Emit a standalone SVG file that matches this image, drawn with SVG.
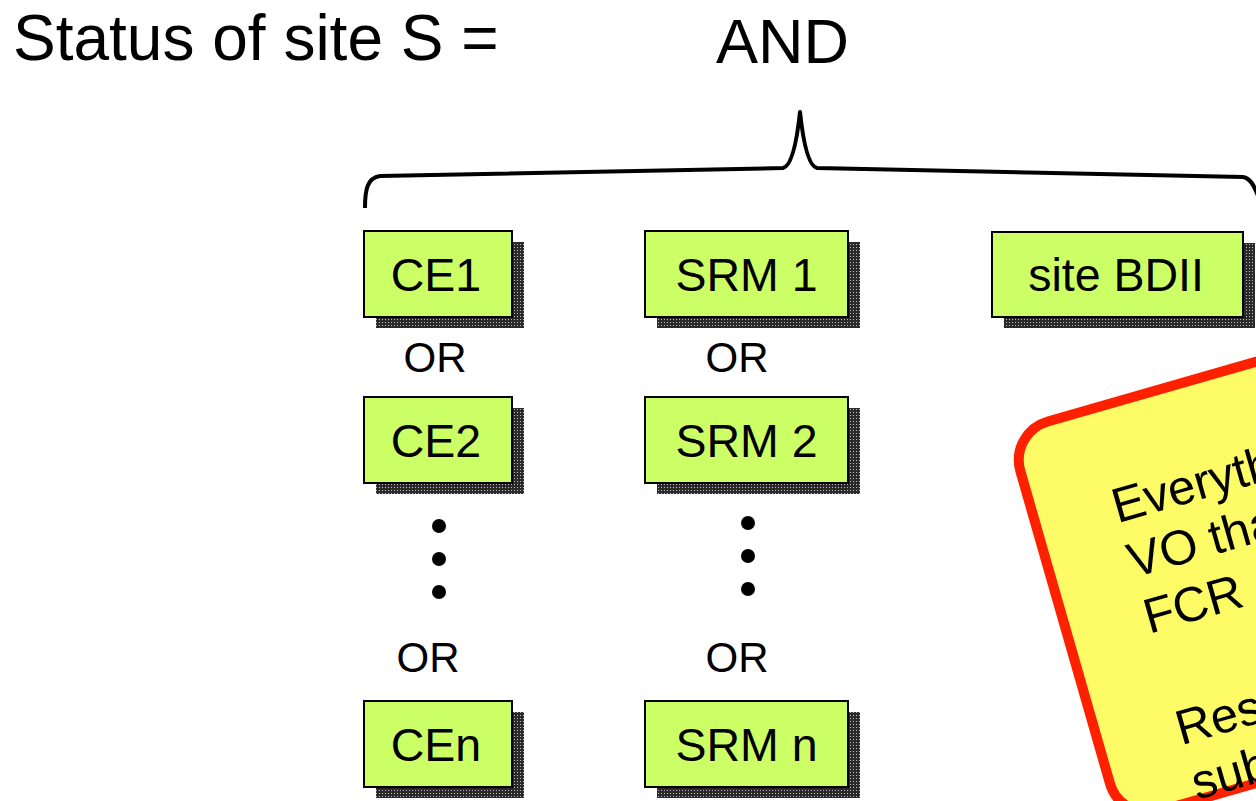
<svg xmlns="http://www.w3.org/2000/svg" width="1256" height="801" viewBox="0 0 1256 801">
<style>
  text { font-family: "Liberation Sans", Arial, sans-serif; fill: #000; }
  .title { font-size: 64px; }
  .and { font-size: 63px; }
  .lbl { font-size: 46.5px; text-anchor: middle; }
  .or { font-size: 42px; text-anchor: middle; }
  .box { fill: #ccff66; stroke: #000; stroke-width: 2; }
  .shadow { fill: url(#checker); }
  .note { font-size: 49px; }
</style>
<defs>
  <pattern id="checker" width="3" height="3" patternUnits="userSpaceOnUse">
    <rect width="3" height="3" fill="#2a2a2a"/>
    <rect x="1" y="1" width="1" height="1" fill="#bdbdbd"/>
  </pattern>
</defs>
<rect width="1256" height="801" fill="#fff"/>

<text class="title" x="13" y="60">Status of site S =</text>
<text class="and" x="716" y="63">AND</text>

<g id="connectors">
  <path id="brace" d="M 365 208 C 365 190 367 178 380 176 L 783 168 C 792 166 797 140 800 112 C 803 140 808 166 817 168 L 1243 177 C 1250 178 1254 185 1258 196" fill="none" stroke="#000" stroke-width="4" stroke-linejoin="round"/>
</g>

<g id="ce1">
  <rect class="shadow" x="376" y="242" width="148" height="86"/>
  <rect class="box" x="364" y="231" width="148" height="86"/>
  <text class="lbl" x="436" y="291">CE1</text>
</g>
<g id="ce2">
  <rect class="shadow" x="376" y="408" width="148" height="86"/>
  <rect class="box" x="364" y="397" width="148" height="86"/>
  <text class="lbl" x="436" y="457">CE2</text>
</g>
<g id="cen">
  <rect class="shadow" x="376" y="712" width="148" height="86"/>
  <rect class="box" x="364" y="701" width="148" height="86"/>
  <text class="lbl" x="436" y="761">CEn</text>
</g>

<g id="srm1">
  <rect class="shadow" x="657" y="242" width="203" height="86"/>
  <rect class="box" x="645" y="231" width="203" height="86"/>
  <text class="lbl" x="746.5" y="291">SRM 1</text>
</g>
<g id="srm2">
  <rect class="shadow" x="657" y="408" width="203" height="86"/>
  <rect class="box" x="645" y="397" width="203" height="86"/>
  <text class="lbl" x="746.5" y="457">SRM 2</text>
</g>
<g id="srmn">
  <rect class="shadow" x="657" y="712" width="203" height="86"/>
  <rect class="box" x="645" y="701" width="203" height="86"/>
  <text class="lbl" x="746.5" y="761">SRM n</text>
</g>

<g id="sitebdii">
  <rect class="shadow" x="1004" y="243" width="251" height="85"/>
  <rect class="box" x="992" y="232" width="251" height="85"/>
  <text class="lbl" x="1116" y="291">site BDII</text>
</g>

<g id="or-labels">
  <text class="or" x="435" y="372">OR</text>
  <text class="or" x="737" y="372">OR</text>
  <text class="or" x="428" y="672">OR</text>
  <text class="or" x="737" y="672">OR</text>
</g>

<g id="dots" fill="#000">
  <circle cx="439" cy="526" r="7"/>
  <circle cx="439" cy="559" r="7"/>
  <circle cx="439" cy="592" r="7"/>
  <circle cx="748" cy="523" r="7"/>
  <circle cx="748" cy="556" r="7"/>
  <circle cx="748" cy="589" r="7"/>
</g>

<g id="note" transform="rotate(-16)">
  <rect x="851" y="694" width="520" height="405" rx="40" ry="40" fill="#fdfb66" stroke="#ff2000" stroke-width="10"/>
  <text class="note" x="930" y="811">Everyth</text>
  <text class="note" x="930" y="868">VO tha</text>
  <text class="note" x="930" y="926">FCR</text>
  <text class="note" x="930" y="1042">Res</text>
  <text class="note" x="930" y="1099">sub</text>
</g>
</svg>
